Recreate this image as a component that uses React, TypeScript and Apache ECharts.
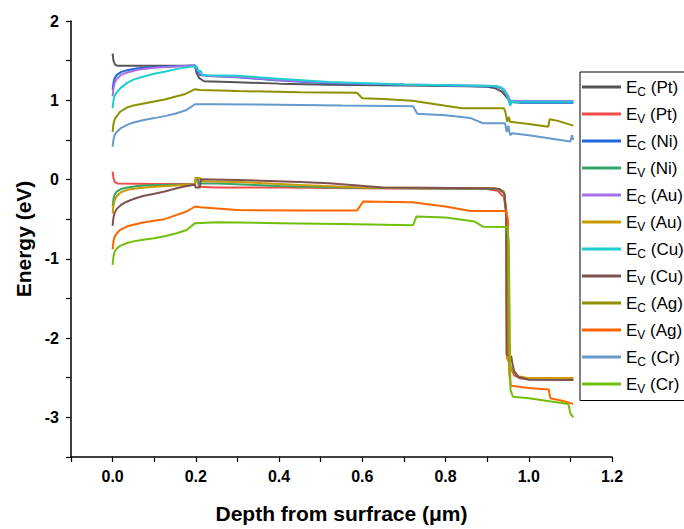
import React, { useEffect, useRef } from "react";
import * as echarts from "echarts";

// Band-edge profiles, [depth (µm), energy (eV)]
const ecPt: [number, number][] = [
  [0, 1.59], [0.002, 1.5], [0.006, 1.45], [0.012, 1.435], [0.1, 1.435], [0.198, 1.435],
  [0.202, 1.34], [0.208, 1.28], [0.22, 1.24], [0.3, 1.227], [0.4, 1.21], [0.52, 1.195],
  [0.7, 1.185], [0.85, 1.178], [0.9, 1.17], [0.92, 1.15], [0.935, 1.11], [0.945, 1.05],
  [0.955, 0.99], [0.965, 0.975], [1.0, 0.975], [1.107, 0.975],
];
const evPt: [number, number][] = [
  [0, 0.1], [0.002, 0.02], [0.005, -0.03], [0.012, -0.05], [0.1, -0.055], [0.198, -0.055],
  [0.2, 0.015], [0.205, 0.015], [0.207, -0.09], [0.25, -0.1], [0.4, -0.1], [0.6, -0.11],
  [0.9, -0.12], [0.925, -0.14], [0.94, -0.22], [0.946, -0.4], [0.947, -2.2], [0.955, -2.35],
  [0.965, -2.47], [0.98, -2.51], [1.107, -2.52],
];
const ecNi: [number, number][] = [
  [0, 1.13], [0.002, 1.22], [0.005, 1.28], [0.01, 1.32], [0.02, 1.355], [0.035, 1.38],
  [0.06, 1.405], [0.1, 1.42], [0.15, 1.43], [0.198, 1.44], [0.202, 1.37], [0.21, 1.32],
  [0.23, 1.305], [0.3, 1.29], [0.4, 1.25], [0.52, 1.215], [0.7, 1.195], [0.92, 1.175],
  [0.935, 1.15], [0.945, 1.09], [0.952, 1.0], [0.956, 0.95], [0.96, 0.985], [0.98, 0.97],
  [1.107, 0.97],
];
const evNi: [number, number][] = [
  [0, -0.34], [0.002, -0.25], [0.005, -0.19], [0.01, -0.15], [0.02, -0.12], [0.035, -0.1],
  [0.06, -0.08], [0.1, -0.07], [0.15, -0.065], [0.198, -0.06], [0.2, 0.02], [0.205, 0.02],
  [0.207, -0.05], [0.25, -0.05], [0.4, -0.08], [0.55, -0.1], [0.7, -0.11], [0.92, -0.115],
  [0.94, -0.16], [0.946, -0.4], [0.948, -2.25], [0.96, -2.4], [0.975, -2.49], [1.0, -2.52],
  [1.107, -2.52],
];
const ecAu: [number, number][] = [
  [0, 1.05], [0.002, 1.15], [0.005, 1.22], [0.01, 1.27], [0.02, 1.32], [0.035, 1.35],
  [0.06, 1.385], [0.1, 1.41], [0.15, 1.425], [0.198, 1.44], [0.202, 1.4], [0.21, 1.33],
  [0.23, 1.31], [0.3, 1.295], [0.4, 1.255], [0.52, 1.22], [0.7, 1.2], [0.92, 1.18],
  [0.94, 1.14], [0.95, 1.06], [0.955, 1.0], [0.96, 0.99], [0.98, 0.99], [1.107, 0.99],
];
const evAu: [number, number][] = [
  [0, -0.43], [0.002, -0.33], [0.005, -0.26], [0.01, -0.21], [0.02, -0.16], [0.035, -0.13],
  [0.06, -0.11], [0.1, -0.09], [0.15, -0.075], [0.198, -0.06], [0.2, 0.02], [0.21, 0.02],
  [0.212, -0.02], [0.3, -0.03], [0.45, -0.07], [0.6, -0.1], [0.92, -0.11], [0.94, -0.15],
  [0.946, -0.4], [0.948, -2.25], [0.96, -2.4], [0.975, -2.48], [1.0, -2.505], [1.107, -2.505],
];
const ecCu: [number, number][] = [
  [0, 0.9], [0.002, 1.0], [0.005, 1.06], [0.01, 1.1], [0.02, 1.16], [0.035, 1.22],
  [0.05, 1.26], [0.075, 1.3], [0.1, 1.335], [0.125, 1.36], [0.15, 1.39], [0.175, 1.415],
  [0.198, 1.43], [0.203, 1.42], [0.206, 1.37], [0.212, 1.37], [0.215, 1.32], [0.23, 1.315],
  [0.3, 1.31], [0.4, 1.27], [0.52, 1.23], [0.7, 1.2], [0.92, 1.18], [0.935, 1.16],
  [0.945, 1.1], [0.952, 1.0], [0.955, 0.93], [0.96, 1.0], [0.965, 0.97], [0.98, 0.98],
  [1.107, 0.98],
];
const evCu: [number, number][] = [
  [0, -0.585], [0.002, -0.48], [0.005, -0.42], [0.01, -0.37], [0.02, -0.32], [0.034, -0.28],
  [0.05, -0.245], [0.073, -0.207], [0.1, -0.18], [0.125, -0.15], [0.154, -0.11],
  [0.175, -0.085], [0.194, -0.068], [0.198, -0.07], [0.199, -0.1], [0.21, -0.1],
  [0.212, 0.005], [0.3, -0.005], [0.45, -0.03], [0.52, -0.047], [0.65, -0.1], [0.9, -0.11],
  [0.93, -0.12], [0.942, -0.18], [0.946, -0.5], [0.947, -2.21], [0.958, -2.23], [0.96, -2.3],
  [0.965, -2.42], [0.975, -2.49], [1.0, -2.525], [1.107, -2.53],
];
const ecAg: [number, number][] = [
  [0, 0.6], [0.002, 0.7], [0.005, 0.76], [0.01, 0.8], [0.018, 0.855], [0.035, 0.91],
  [0.05, 0.935], [0.075, 0.96], [0.1, 0.985], [0.125, 1.01], [0.15, 1.045], [0.175, 1.08],
  [0.198, 1.14], [0.21, 1.13], [0.3, 1.117], [0.45, 1.1], [0.587, 1.095], [0.6, 1.025],
  [0.65, 1.015], [0.72, 0.995], [0.8, 0.93], [0.84, 0.9], [0.94, 0.9], [0.944, 0.85],
  [0.948, 0.73], [0.952, 0.79], [0.955, 0.73], [1.0, 0.7], [1.047, 0.667], [1.05, 0.76],
  [1.07, 0.74], [1.107, 0.68],
];
const evAg: [number, number][] = [
  [0, -0.88], [0.002, -0.78], [0.005, -0.72], [0.01, -0.68], [0.018, -0.636], [0.035, -0.59],
  [0.05, -0.57], [0.073, -0.543], [0.1, -0.52], [0.125, -0.5], [0.154, -0.446],
  [0.175, -0.41], [0.198, -0.34], [0.21, -0.35], [0.3, -0.385], [0.45, -0.39],
  [0.587, -0.392], [0.602, -0.278], [0.72, -0.285], [0.8, -0.34], [0.86, -0.396],
  [0.945, -0.396], [0.95, -0.5], [0.953, -2.45], [0.957, -2.6], [1.0, -2.63],
  [1.048, -2.65], [1.052, -2.76], [1.08, -2.79], [1.107, -2.83],
];
const ecCr: [number, number][] = [
  [0, 0.415], [0.002, 0.5], [0.005, 0.56], [0.01, 0.6], [0.02, 0.65], [0.035, 0.69],
  [0.05, 0.72], [0.075, 0.752], [0.1, 0.775], [0.125, 0.8], [0.15, 0.83], [0.178, 0.878],
  [0.198, 0.95], [0.25, 0.95], [0.4, 0.945], [0.55, 0.935], [0.722, 0.925], [0.732, 0.83],
  [0.8, 0.81], [0.86, 0.775], [0.89, 0.71], [0.943, 0.71], [0.947, 0.6], [0.951, 0.68],
  [0.955, 0.56], [0.96, 0.585], [1.0, 0.56], [1.1, 0.48], [1.104, 0.56], [1.107, 0.5],
];
const evCr: [number, number][] = [
  [0, -1.077], [0.002, -0.97], [0.005, -0.91], [0.01, -0.87], [0.018, -0.837], [0.035, -0.8],
  [0.05, -0.78], [0.073, -0.76], [0.1, -0.74], [0.125, -0.715], [0.154, -0.677],
  [0.178, -0.636], [0.198, -0.55], [0.25, -0.54], [0.4, -0.55], [0.55, -0.56],
  [0.722, -0.575], [0.73, -0.467], [0.8, -0.48], [0.87, -0.53], [0.89, -0.594],
  [0.948, -0.6], [0.952, -0.8], [0.956, -2.65], [0.962, -2.74], [1.0, -2.76],
  [1.095, -2.83], [1.1, -2.95], [1.107, -3.0],
];

const seriesNames = [
  "EC (Pt)", "EV (Pt)", "EC (Ni)", "EV (Ni)", "EC (Au)", "EV (Au)",
  "EC (Cu)", "EV (Cu)", "EC (Ag)", "EV (Ag)", "EC (Cr)", "EV (Cr)",
];
const seriesData = [ecPt, evPt, ecNi, evNi, ecAu, evAu, ecCu, evCu, ecAg, evAg, ecCr, evCr];
const seriesColors = [
  "#555555", "#F24B4B", "#2266DD", "#33A66A", "#A66FE6", "#CC9900",
  "#1FCFCF", "#7F5252", "#8F8F00", "#FF6600", "#6699CC", "#70BF0A",
];

const FONT = "Liberation Sans, Arial, sans-serif";

export default function App() {
  const ref = useRef<HTMLDivElement>(null);

  useEffect(() => {
    document.body.style.margin = "0";
    if (!ref.current) return;
    const chart = echarts.init(ref.current, undefined, { renderer: "svg" });

    const axisCommon = {
      axisLine: { show: true, onZero: false, lineStyle: { color: "#000", width: 1.5 } },
      axisTick: { show: true, inside: false, length: 5, lineStyle: { color: "#000", width: 1.2 } },
      splitLine: { show: false },
      nameTextStyle: { fontFamily: FONT, fontWeight: "bold", fontSize: 21, color: "#000" },
    };
    const tickFont = { fontFamily: FONT, fontWeight: "bold", fontSize: 16, color: "#000" };

    chart.setOption({
      animation: false,
      backgroundColor: "#fff",
      grid: { left: 71, right: 72, top: 21, bottom: 72, containLabel: false },
      xAxis: {
        type: "value",
        min: -0.1,
        max: 1.2,
        interval: 0.1,
        name: "Depth from surfrace (μm)",
        nameLocation: "middle",
        nameGap: 46,
        ...axisCommon,
        axisLabel: {
          margin: 11,
          ...tickFont,
          formatter: (v: number) => {
            const k = Math.round(v * 10);
            return k >= 0 && k % 2 === 0 ? (k / 10).toFixed(1) : "";
          },
        },
      },
      yAxis: {
        type: "value",
        min: -3.5,
        max: 2,
        interval: 0.5,
        name: "Energy (eV)",
        nameLocation: "middle",
        nameGap: 37,
        ...axisCommon,
        axisLabel: {
          margin: 12,
          ...tickFont,
          formatter: (v: number) => {
            const k = Math.round(v * 2);
            return k % 2 === 0 && k / 2 > -3.5 ? String(k / 2) : "";
          },
        },
      },
      legend: {
        orient: "vertical",
        left: 580,
        top: 72,
        padding: [6, 30, 6, 2],
        itemGap: 7.5,
        itemWidth: 39,
        itemHeight: 3,
        icon: "rect",
        borderColor: "#000",
        borderWidth: 1,
        backgroundColor: "#fff",
        data: seriesNames,
        formatter: (name: string) => name.replace(/^E([CV])/, "E{s|$1}"),
        textStyle: {
          fontFamily: FONT,
          fontSize: 17,
          lineHeight: 18,
          color: "#000",
          rich: {
            s: { fontFamily: FONT, fontSize: 12, color: "#000", padding: [9, 0, 0, 0] },
          },
        },
      },
      series: seriesNames.map((name, i) => ({
        name,
        type: "line",
        data: seriesData[i],
        showSymbol: false,
        symbol: "none",
        color: seriesColors[i],
        lineStyle: { width: 2, color: seriesColors[i] },
        z: 2,
      })),
    });

    return () => chart.dispose();
  }, []);

  return <div ref={ref} style={{ width: 684, height: 529 }} />;
}
